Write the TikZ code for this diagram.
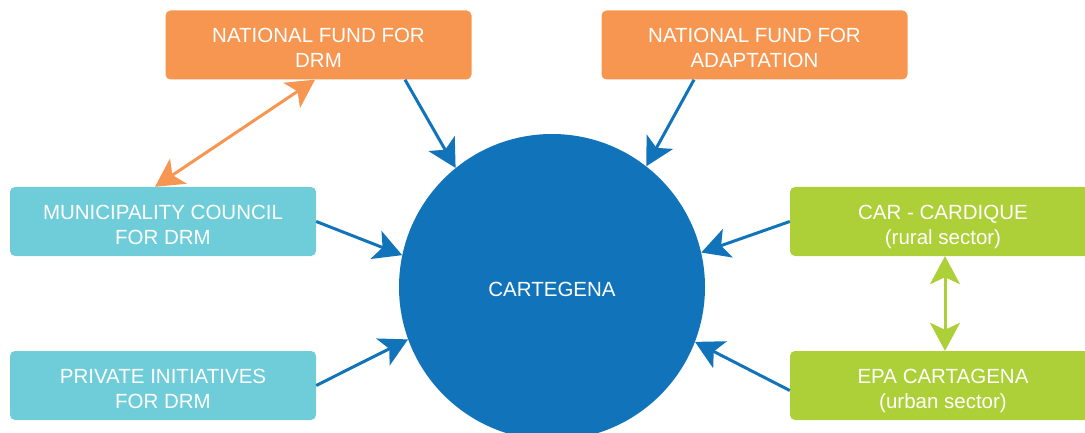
\documentclass[tikz,border=0pt]{standalone}
\usepackage{fontspec}
\setmainfont{Liberation Sans}
\usetikzlibrary{arrows.meta,calc}
\definecolor{orangebox}{RGB}{246,150,80}
\definecolor{bluebox}{RGB}{111,205,218}
\definecolor{greenbox}{RGB}{173,207,55}
\definecolor{cityblue}{RGB}{17,116,187}
\newcommand\mytopstrut{\rule{0pt}{26.5pt}}
\newcommand\mybotstrut{\rule[-6pt]{0pt}{6pt}}
\tikzset{
  box/.style={rounded corners=5pt, minimum width=306pt, minimum height=69pt, inner sep=0pt,
    align=center, text=white, font=\fontsize{20.5}{25}\selectfont},
  orangenode/.style={box, fill=orangebox},
  bluenode/.style={box, fill=bluebox},
  greennode/.style={box, fill=greenbox},
  tip/.style={Stealth[length=28pt,width=30pt,inset=7pt]},
  link/.style={line width=3pt, cityblue, -{Stealth[length=28pt,width=30pt,inset=7pt]}},
  olink/.style={line width=3pt, orangebox, {Stealth[length=28pt,width=30pt,inset=7pt]}-{Stealth[length=28pt,width=30pt,inset=7pt]}},
  glink/.style={line width=3pt, greenbox, {Stealth[length=28pt,width=30pt,inset=7pt]}-{Stealth[length=28pt,width=30pt,inset=7pt]}},
}
\begin{document}
\begin{tikzpicture}[x=1pt,y=-1pt]
\useasboundingbox (0,0) rectangle (1085,433);
\clip (0,0) rectangle (1085,433);
\node[circle, fill=cityblue, minimum size=306pt, inner sep=0pt, text=white,
  font=\fontsize{20.5}{25}\selectfont] (city) at (552,287) {\rule{0pt}{20pt}CARTEGENA};
\node[orangenode] (drm) at (318.5,45) {\mytopstrut NATIONAL FUND FOR\\DRM\mybotstrut};
\node[orangenode] (adapt) at (754.5,45) {\mytopstrut NATIONAL FUND FOR\\ADAPTATION\mybotstrut};
\node[bluenode] (muni) at (163,221.5) {\mytopstrut MUNICIPALITY COUNCIL\\FOR DRM\mybotstrut};
\node[bluenode] (priv) at (163,385.5) {\mytopstrut PRIVATE INITIATIVES\\FOR DRM\mybotstrut};
\node[greennode] (car) at (943,221.5) {\mytopstrut CAR - CARDIQUE\\(rural sector)\mybotstrut};
\node[greennode] (epa) at (943,385.5) {\mytopstrut EPA CARTAGENA\\(urban sector)\mybotstrut};

\draw[link] ([xshift=86.5pt]drm.south) -- (city.129.5);
\draw[link] ([xshift=-60.5pt]adapt.south) -- (city.52.7);
\draw[link] (muni.east) -- (city.168.3);
\draw[link] (priv.east) -- (city.200.5);
\draw[link] (car.west) -- (city.13.1);
\draw[link] ([yshift=-5pt]epa.west) -- (city.-21.7);
\draw[olink] ([xshift=-8pt]muni.north) -- ([xshift=-3.5pt]drm.south);
\draw[glink] ([xshift=2pt]car.south) -- ([xshift=2pt]epa.north);
\end{tikzpicture}
\end{document}
